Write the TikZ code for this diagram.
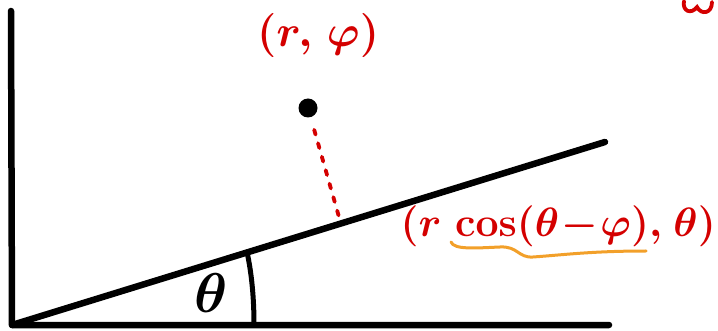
\RequirePackage{fix-cm}
\documentclass[tikz,border=0pt]{standalone}
\usepackage{bm}
\usetikzlibrary{calc}
\definecolor{inkred}{HTML}{D40000}
\definecolor{inkorange}{HTML}{F2A02A}
\begin{document}
\begin{tikzpicture}[x=1pt,y=-1pt,
  axisline/.style={line width=6.5pt,line cap=round,line join=round,black},
  redlabel/.style={text=inkred,inner sep=0pt},
  dotline/.style={inkred,line width=3.8pt,line cap=round,dash pattern=on 5pt off 9pt}]
\useasboundingbox (0,0) rectangle (718,331);
% axes and ray
\coordinate (origin) at (12,325);
\coordinate (ytop) at (11,11);
\coordinate (xend) at (609,325);
\coordinate (rayend) at (605,142);
\draw[axisline] (ytop) -- (origin) -- (xend);
\draw[axisline] (origin) -- (rayend);
% angle arc
\coordinate (arcA) at (247,252);
\coordinate (arcB) at (254,325);
\draw[line width=5pt,line cap=round] (arcA) .. controls (252,275) and (254,300) .. (arcB);
\node[inner sep=0pt,font=\fontsize{56}{60}\selectfont] (theta) at (211,293) {$\bm{\theta}$};
% point
\node[circle,fill=black,minimum size=19pt,inner sep=0pt] (p) at (308,108) {};
\coordinate (foot) at (339,217);
\draw[dotline] ($(p)!0.2!(foot)$) -- (foot);
% labels
\node[redlabel,anchor=base west,font=\fontsize{44}{48}\selectfont] (plabel) at (257,47) {$\bm{(r,\,\varphi)}$};
\node[redlabel,anchor=base east,font=\fontsize{41}{45}\selectfont] (qlabel) at (716,237) {$\bm{(r\,\cos(\theta\mkern1mu{-}\mkern1mu\varphi),\mkern2mu\theta)}$};
% orange underline
\coordinate (uA) at (451,242);
\coordinate (uB) at (646,251);
\draw[inkorange,line width=3pt,line cap=round] (uA) .. controls (454,250) and (476,248) .. (500,247)
  .. controls (518,246) and (518,258) .. (533,257)
  .. controls (562,255) and (592,251) .. (uB);
% partial red glyph at top right
\coordinate (wA) at (684,1);
\draw[inkred,line width=3.8pt,line cap=round] (wA) .. controls (682,11) and (691,15) .. (697,7)
  .. controls (701,15) and (712,14) .. (712,2);
\end{tikzpicture}
\end{document}
